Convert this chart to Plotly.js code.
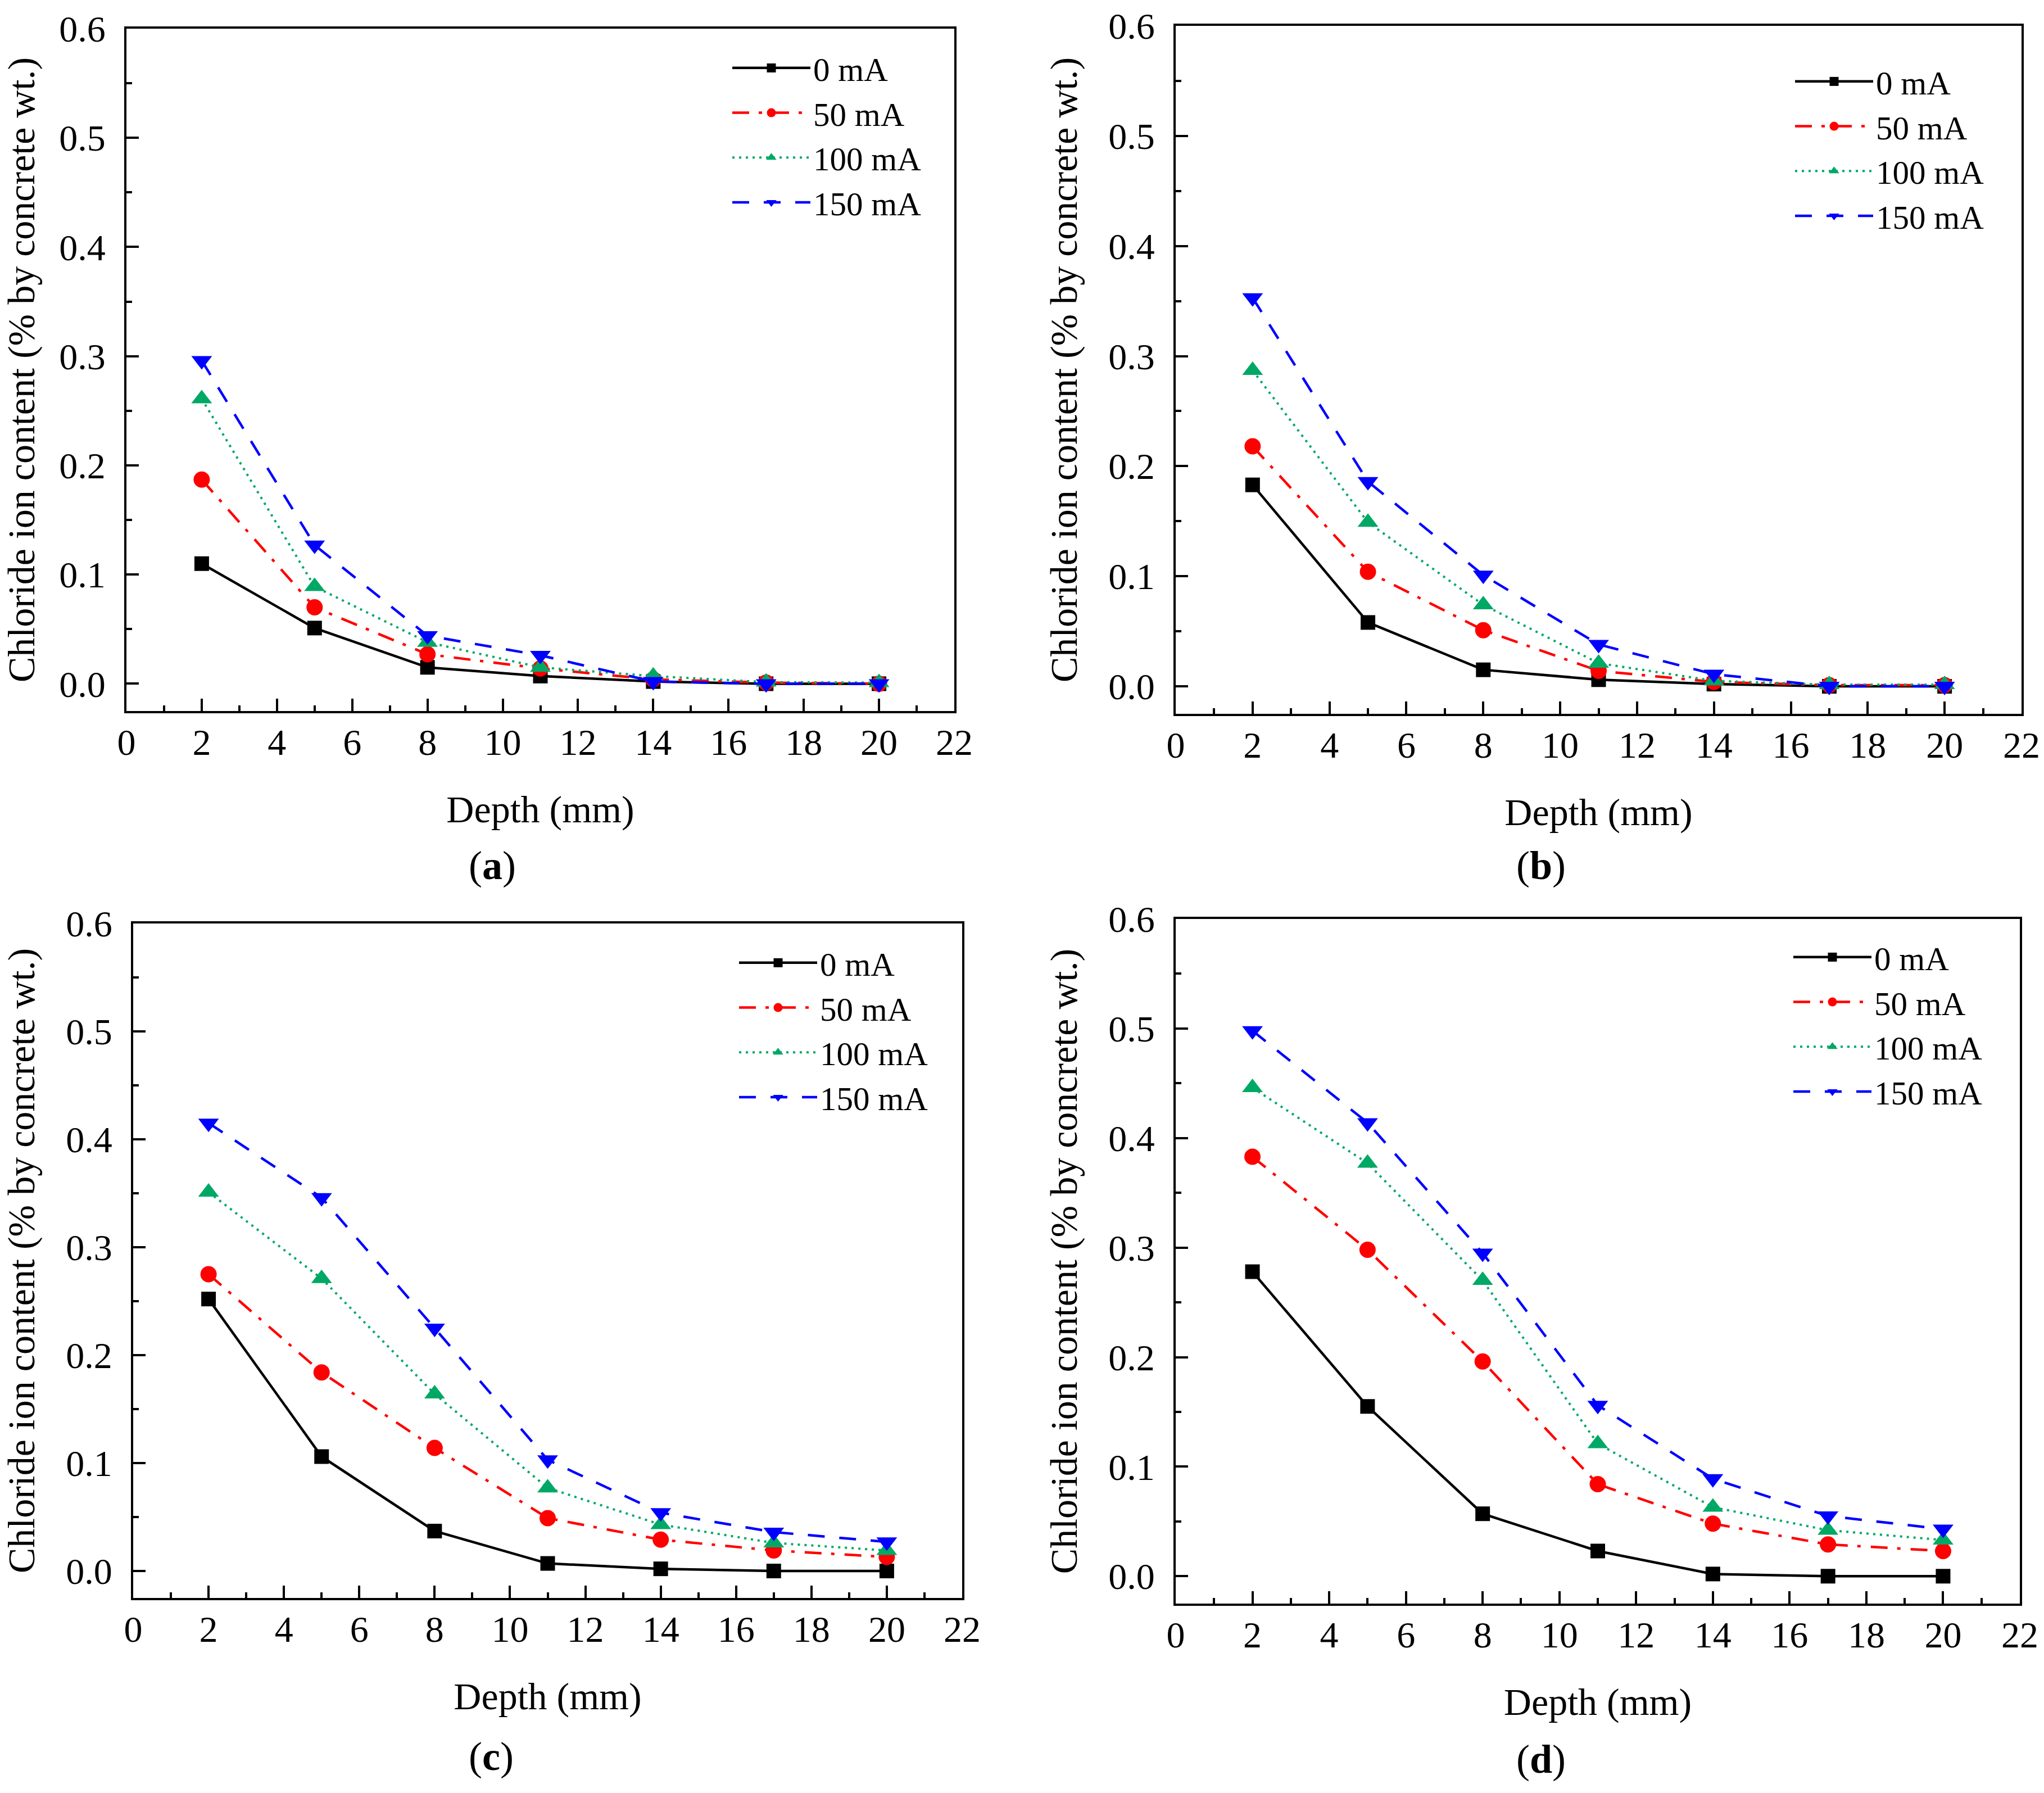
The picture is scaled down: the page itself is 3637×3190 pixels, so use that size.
<!DOCTYPE html>
<html>
<head>
<meta charset="utf-8">
<script src="https://cdn.plot.ly/plotly-3.0.1.min.js"></script>
<style>html,body{margin:0;padding:0;background:#fff;}#chart{width:3637px;height:3190px;}</style>
</head>
<body>
<div id="chart"></div>
<script>
// ---- data ----
const depth = [2, 5, 8, 11, 14, 17, 20];
const seriesNames = ["0 mA", "50 mA", "100 mA", "150 mA"];
const panelLabels = ["a", "b", "c", "d"];
const yTickVals = [0, 0.1, 0.2, 0.3, 0.4, 0.5, 0.6];
const yTickText = ["0.0", "0.1", "0.2", "0.3", "0.4", "0.5", "0.6"];
const xTickVals = [0, 2, 4, 6, 8, 10, 12, 14, 16, 18, 20, 22];

const a_0mA   = [0.110, 0.051, 0.015, 0.007, 0.002, 0.000, 0.000];
const a_50mA  = [0.187, 0.070, 0.027, 0.014, 0.004, 0.001, 0.000];
const a_100mA = [0.261, 0.089, 0.038, 0.015, 0.007, 0.0015, 0.001];
const a_150mA = [0.296, 0.127, 0.044, 0.026, 0.002, 0.000, 0.000];

const b_0mA   = [0.183, 0.058, 0.015, 0.006, 0.002, 0.000, 0.000];
const b_50mA  = [0.218, 0.104, 0.051, 0.014, 0.004, 0.001, 0.001];
const b_100mA = [0.287, 0.149, 0.074, 0.021, 0.005, 0.0015, 0.0015];
const b_150mA = [0.353, 0.186, 0.101, 0.038, 0.011, 0.000, 0.000];

const c_0mA   = [0.252, 0.106, 0.037, 0.007, 0.002, 0.000, 0.000];
const c_50mA  = [0.275, 0.184, 0.114, 0.049, 0.029, 0.019, 0.013];
const c_100mA = [0.351, 0.271, 0.164, 0.077, 0.043, 0.026, 0.019];
const c_150mA = [0.415, 0.346, 0.225, 0.103, 0.054, 0.036, 0.027];

const d_0mA   = [0.278, 0.155, 0.057, 0.023, 0.002, 0.000, 0.000];
const d_50mA  = [0.383, 0.298, 0.196, 0.084, 0.048, 0.029, 0.023];
const d_100mA = [0.446, 0.377, 0.270, 0.121, 0.063, 0.042, 0.033];
const d_150mA = [0.498, 0.414, 0.295, 0.156, 0.089, 0.055, 0.043];

const panels = [
  [a_0mA, a_50mA, a_100mA, a_150mA],
  [b_0mA, b_50mA, b_100mA, b_150mA],
  [c_0mA, c_50mA, c_100mA, c_150mA],
  [d_0mA, d_50mA, d_100mA, d_150mA]
];

// ---- styles ----
const FONT = "Liberation Serif, Times New Roman, serif";
const W = 3637, H = 3190;
const styles = [
  {color: "#000000", dash: "solid",                 symbol: "square",        size: 26, width: 4.5},
  {color: "#ff0000", dash: "30px,17px,6px,18px",    symbol: "circle",        size: 29, width: 4.5},
  {color: "#00a866", dash: "4px,8px",               symbol: "triangle-up",   size: 32, width: 4},
  {color: "#0000ff", dash: "30px,26px",             symbol: "triangle-down", size: 32, width: 4.5}
];
// plot boxes in pixels: [left, right, top, bottom]
const boxes = [
  [225, 1698, 51, 1265],
  [2092, 3597, 46, 1270],
  [237, 1712, 1643, 2843],
  [2092, 3594, 1635, 2853]
];
const legendPos = [[1298, 76], [3189, 100], [1310, 1668], [3186, 1658]];
const labelPos = [[876, 1540], [2742, 1540], [874, 3125], [2742, 3130]];

const traces = [];
const layout = {
  width: W, height: H,
  margin: {l: 0, r: 0, t: 0, b: 0},
  paper_bgcolor: "#ffffff",
  plot_bgcolor: "#ffffff",
  font: {family: FONT, color: "#000000"},
  annotations: [],
  showlegend: true
};

panels.forEach((series, p) => {
  const n = p + 1;
  const sfx = n === 1 ? "" : String(n);
  const legId = "legend" + sfx;
  series.forEach((vals, s) => {
    const st = styles[s];
    traces.push({
      x: depth, y: vals,
      xaxis: "x" + sfx, yaxis: "y" + sfx,
      legend: legId,
      name: seriesNames[s],
      type: "scatter", mode: "lines+markers",
      line: {color: st.color, width: st.width, dash: st.dash},
      marker: {symbol: st.symbol, size: st.size, color: st.color, line: {width: 0}}
    });
  });
  const b = boxes[p];
  const common = {
    showline: true, linewidth: 4, linecolor: "#000000", mirror: true,
    ticks: "inside", ticklen: 22, tickwidth: 4, tickcolor: "#000000",
    showgrid: false, zeroline: false,
    tickfont: {family: FONT, size: 66, color: "#000000"}
  };
  layout["xaxis" + sfx] = Object.assign({}, common, {
    domain: [b[0] / W, b[1] / W],
    anchor: "y" + sfx,
    range: [0, 22],
    tickmode: "array", tickvals: xTickVals,
    ticklabelstandoff: -5,
    minor: {ticks: "inside", ticklen: 10, tickwidth: 4, tickcolor: "#000000", dtick: 1, tick0: 0, showgrid: false},
    title: {text: "Depth (mm)", standoff: 60, font: {family: FONT, size: 68, color: "#000000"}}
  });
  layout["yaxis" + sfx] = Object.assign({}, common, {
    domain: [1 - b[3] / H, 1 - b[2] / H],
    anchor: "x" + sfx,
    range: [-0.025, 0.6],
    tickmode: "array", tickvals: yTickVals, ticktext: yTickText,
    ticklabelstandoff: 20,
    minor: {ticks: "inside", ticklen: 10, tickwidth: 4, tickcolor: "#000000", dtick: 0.05, tick0: 0, showgrid: false},
    title: {text: "Chloride ion content (% by concrete wt.)", standoff: 34, font: {family: FONT, size: 68, color: "#000000"}}
  });
  layout[legId] = {
    x: legendPos[p][0] / W, y: 1 - legendPos[p][1] / H,
    xanchor: "left", yanchor: "top",
    bgcolor: "rgba(0,0,0,0)", borderwidth: 0,
    font: {family: FONT, size: 59, color: "#000000"},
    itemwidth: 139, tracegroupgap: 0
  };
  layout.annotations.push({
    xref: "paper", yref: "paper",
    x: labelPos[p][0] / W, y: 1 - labelPos[p][1] / H,
    xanchor: "center", yanchor: "middle",
    text: "(<b>" + panelLabels[p] + "</b>)",
    showarrow: false,
    font: {family: FONT, size: 72, color: "#000000"}
  });
});

Plotly.newPlot("chart", traces, layout, {staticPlot: true});
</script>
</body>
</html>
